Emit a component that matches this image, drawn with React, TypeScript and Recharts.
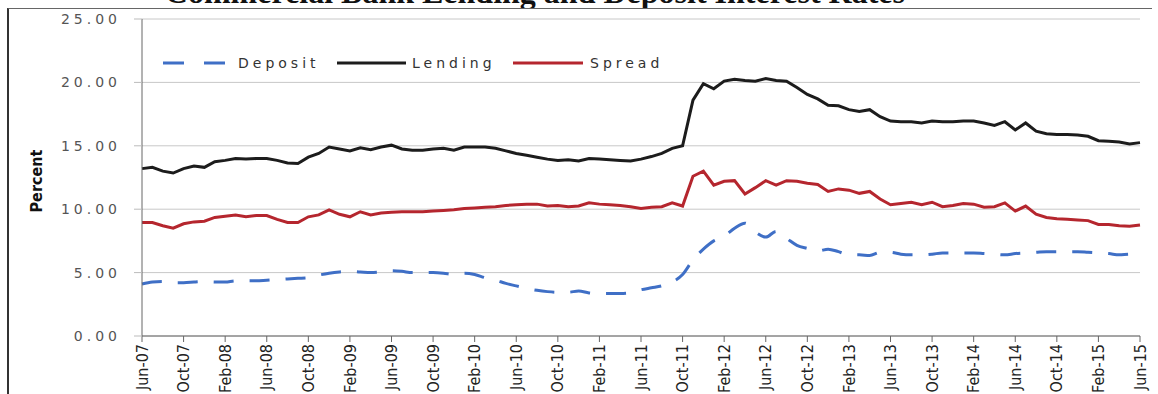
import { LineChart, Line, XAxis, YAxis, CartesianGrid } from "recharts";

// monthly, Jun-07 .. Jun-15
const months = [
  "Jun-07", "Jul-07", "Aug-07", "Sep-07", "Oct-07", "Nov-07", "Dec-07",
  "Jan-08", "Feb-08", "Mar-08", "Apr-08", "May-08", "Jun-08", "Jul-08", "Aug-08", "Sep-08", "Oct-08", "Nov-08", "Dec-08",
  "Jan-09", "Feb-09", "Mar-09", "Apr-09", "May-09", "Jun-09", "Jul-09", "Aug-09", "Sep-09", "Oct-09", "Nov-09", "Dec-09",
  "Jan-10", "Feb-10", "Mar-10", "Apr-10", "May-10", "Jun-10", "Jul-10", "Aug-10", "Sep-10", "Oct-10", "Nov-10", "Dec-10",
  "Jan-11", "Feb-11", "Mar-11", "Apr-11", "May-11", "Jun-11", "Jul-11", "Aug-11", "Sep-11", "Oct-11", "Nov-11", "Dec-11",
  "Jan-12", "Feb-12", "Mar-12", "Apr-12", "May-12", "Jun-12", "Jul-12", "Aug-12", "Sep-12", "Oct-12", "Nov-12", "Dec-12",
  "Jan-13", "Feb-13", "Mar-13", "Apr-13", "May-13", "Jun-13", "Jul-13", "Aug-13", "Sep-13", "Oct-13", "Nov-13", "Dec-13",
  "Jan-14", "Feb-14", "Mar-14", "Apr-14", "May-14", "Jun-14", "Jul-14", "Aug-14", "Sep-14", "Oct-14", "Nov-14", "Dec-14",
  "Jan-15", "Feb-15", "Mar-15", "Apr-15", "May-15", "Jun-15",
];

const deposit = [
  4.1, 4.25, 4.3, 4.2, 4.2, 4.25, 4.3,
  4.25, 4.25, 4.35, 4.35, 4.35, 4.4, 4.45, 4.5, 4.55, 4.6, 4.8, 4.95,
  5.05, 5.1, 5.05, 5.0, 5.05, 5.15, 5.1, 5.0, 5.0, 5.0, 4.95, 4.85,
  4.95, 4.85, 4.6, 4.4, 4.15, 3.95, 3.75, 3.6, 3.5, 3.45, 3.45, 3.55,
  3.4, 3.35, 3.35, 3.35, 3.4, 3.65, 3.8, 3.95, 4.25, 4.85, 6.0, 6.85,
  7.5, 7.85, 8.5, 8.9, 8.2, 7.8, 8.25, 7.7, 7.15, 6.9, 6.7, 6.85,
  6.65, 6.4, 6.4, 6.35, 6.6, 6.6, 6.45, 6.4, 6.4, 6.45, 6.55, 6.55,
  6.55, 6.55, 6.5, 6.45, 6.4, 6.5, 6.55, 6.6, 6.65, 6.65, 6.65, 6.65,
  6.6, 6.55, 6.5, 6.4, 6.45, 6.45,
];

const lending = [
  13.2, 13.3, 13.0, 12.85, 13.2, 13.4, 13.3,
  13.75, 13.85, 14.0, 13.95, 14.0, 14.0, 13.85, 13.65, 13.6, 14.1, 14.4, 14.9,
  14.75, 14.6, 14.85, 14.7, 14.9, 15.05, 14.75, 14.65, 14.65, 14.75, 14.8, 14.65,
  14.9, 14.9, 14.9, 14.8, 14.6, 14.4, 14.25, 14.1, 13.95, 13.85, 13.9, 13.8,
  14.0, 13.95, 13.9, 13.85, 13.8, 13.95, 14.15, 14.4, 14.8, 15.0, 18.6, 19.9,
  19.5, 20.1, 20.25, 20.15, 20.1, 20.3, 20.15, 20.1, 19.6, 19.05, 18.7, 18.2,
  18.15, 17.85, 17.7, 17.85, 17.3, 16.95, 16.9, 16.9, 16.8, 16.95, 16.9, 16.9,
  16.95, 16.95, 16.8, 16.6, 16.9, 16.25, 16.8, 16.15, 15.95, 15.9, 15.9, 15.85,
  15.75, 15.4, 15.35, 15.3, 15.15, 15.25,
];

const spread = [
  8.95, 8.95, 8.7, 8.5, 8.85, 9.0, 9.05,
  9.35, 9.45, 9.55, 9.4, 9.5, 9.5, 9.2, 8.95, 8.95, 9.4, 9.55, 9.95,
  9.6, 9.4, 9.8, 9.55, 9.7, 9.75, 9.8, 9.8, 9.8, 9.85, 9.9, 9.95,
  10.05, 10.1, 10.15, 10.2, 10.3, 10.35, 10.4, 10.4, 10.25, 10.3, 10.2, 10.25,
  10.5, 10.4, 10.35, 10.3, 10.2, 10.05, 10.15, 10.2, 10.5, 10.25, 12.6, 13.0,
  11.9, 12.2, 12.25, 11.2, 11.7, 12.25, 11.9, 12.25, 12.2, 12.05, 11.95, 11.4,
  11.6, 11.5, 11.25, 11.4, 10.8, 10.35, 10.45, 10.55, 10.35, 10.55, 10.2, 10.3,
  10.45, 10.4, 10.15, 10.2, 10.5, 9.85, 10.25, 9.6, 9.35, 9.25, 9.2, 9.15,
  9.1, 8.8, 8.8, 8.7, 8.65, 8.75,
];

const yTicks = [0, 5, 10, 15, 20, 25];

const data = months.map((m, i) => ({
  month: m,
  deposit: deposit[i],
  lending: lending[i],
  spread: spread[i],
}));

const narrow = "'Liberation Sans Narrow', 'DejaVu Sans Condensed', 'Arial Narrow', sans-serif";
const wide = "'DejaVu Sans', Verdana, sans-serif";

const XTick = ({ x, y, payload }: any) => (
  <text
    x={x}
    y={y}
    dy="0.35em"
    transform={`rotate(-90 ${x} ${y})`}
    textAnchor="end"
    fontFamily={narrow}
    fontSize={16}
    fill="#222"
  >
    {payload.value}
  </text>
);

const YTick = ({ x, y, payload }: any) => (
  <text
    x={x - 11}
    y={y}
    dy="0.36em"
    textAnchor="end"
    fontFamily={wide}
    fontSize={14}
    letterSpacing={4}
    fill="#555"
  >
    {Number(payload.value).toFixed(2)}
  </text>
);

export default function App() {
  return (
    <div style={{ position: "absolute", left: 0, top: 0, width: 1158, height: 394, background: "#fff", overflow: "hidden" }}>
      {/* title, mostly cut off at the top */}
      <svg width={1158} height={9} style={{ position: "absolute", left: 0, top: 0 }}>
        <text x={905} y={3} textAnchor="end" fontFamily="'Liberation Serif', serif" fontWeight="bold" fontSize={32} fill="#111">
          Commercial Bank Lending and Deposit Interest Rates
        </text>
      </svg>
      {/* frame */}
      <div style={{ position: "absolute", left: 7, top: 8, width: 1143, height: 400, borderLeft: "2px solid #333", borderTop: "1px solid #666" }} />

      <div style={{ position: "absolute", left: 0, top: 0 }}>
        <LineChart width={1158} height={394} data={data} margin={{ top: 19, right: 18, bottom: 0, left: 0 }}>
          <CartesianGrid vertical={false} stroke="#c8c8c8" />
          <XAxis
            dataKey="month"
            interval={3}
            height={58}
            tick={<XTick />}
            tickSize={6}
            tickMargin={2}
            axisLine={{ stroke: "#666" }}
            tickLine={{ stroke: "#666" }}
          />
          <YAxis
            width={142}
            domain={[0, 25]}
            ticks={yTicks}
            tick={<YTick />}
            tickSize={8}
            tickMargin={2}
            axisLine={{ stroke: "#666" }}
            tickLine={{ stroke: "#bbb" }}
          />
          <Line dataKey="deposit" type="monotone" stroke="#3f6fc6" strokeWidth={3} strokeDasharray="20 16" dot={false} isAnimationActive={false} />
          <Line dataKey="lending" type="linear" stroke="#1c1c1c" strokeWidth={3} dot={false} isAnimationActive={false} />
          <Line dataKey="spread" type="linear" stroke="#b5262e" strokeWidth={3} dot={false} isAnimationActive={false} />
        </LineChart>
      </div>

      {/* y axis title and legend */}
      <svg width={1158} height={394} style={{ position: "absolute", left: 0, top: 0, pointerEvents: "none" }}>
        <text x={36} y={181} dy="0.35em" transform="rotate(-90 36 181)" textAnchor="middle" fontFamily={narrow} fontWeight="bold" fontSize={16} fill="#111">
          Percent
        </text>
        <line x1={163} x2={226} y1={63} y2={63} stroke="#3f6fc6" strokeWidth={3} strokeDasharray="21 20" />
        <text x={238} y={68} fontFamily={wide} fontSize={14} letterSpacing={4} fill="#333">Deposit</text>
        <line x1={337} x2={406} y1={63} y2={63} stroke="#1c1c1c" strokeWidth={3} />
        <text x={412} y={68} fontFamily={wide} fontSize={14} letterSpacing={4} fill="#333">Lending</text>
        <line x1={513} x2={583} y1={63} y2={63} stroke="#b5262e" strokeWidth={3} />
        <text x={590} y={68} fontFamily={wide} fontSize={14} letterSpacing={4} fill="#333">Spread</text>
      </svg>
    </div>
  );
}
